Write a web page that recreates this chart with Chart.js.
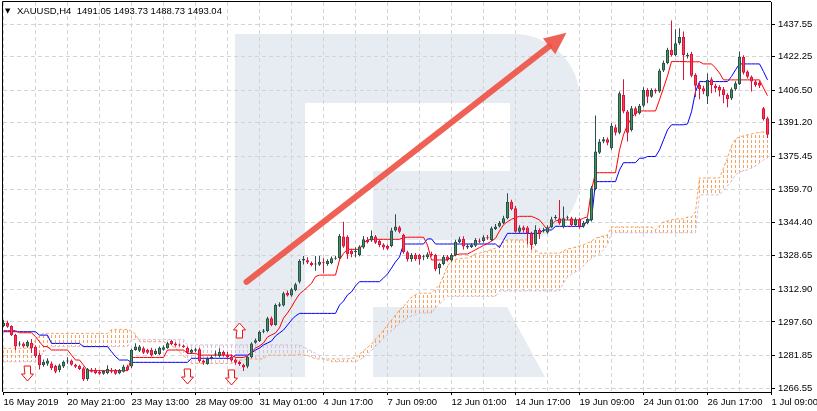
<!DOCTYPE html>
<html>
<head>
<meta charset="utf-8">
<title>XAUUSD H4</title>
<script src="https://cdn.jsdelivr.net/npm/chart.js@4.4.1/dist/chart.umd.min.js"></script>
<style>
  html, body { margin: 0; padding: 0; background: #fff; overflow: hidden; }
  canvas { display: block; }
</style>
</head>
<body>
<canvas id="chart" width="817" height="411"></canvas>
<script>
// XAUUSD H4 with Ichimoku
const symbolTitle = "XAUUSD,H4  1491.05 1493.73 1488.73 1493.04"

const xTickBars = [0, 16, 32, 48, 64, 80, 96, 112, 128, 144, 160, 176, 192]
const xTickLabels = ["16 May 2019", "20 May 21:00", "23 May 13:00", "28 May 09:00", "31 May 01:00", "4 Jun 17:00",
  "7 Jun 09:00", "12 Jun 01:00", "14 Jun 17:00", "19 Jun 09:00", "24 Jun 01:00", "26 Jun 17:00", "1 Jul 09:00"]
const xGridBars = [0, 8, 16, 24, 32, 40, 48, 56, 64, 72, 80, 88, 96, 104, 112, 120, 128, 136, 144, 152, 160, 168, 176, 184, 192]
const yTickLabels = ["1437.55", "1422.25", "1406.50", "1391.20", "1375.45", "1359.70", "1344.40", "1328.65",
  "1312.90", "1297.60", "1281.85", "1266.55"]

const open = [
  1295.7, 1297.2, 1295.7, 1291.4, 1287.0, 1287.5, 1286.0, 1287.8, 1285.9, 1282.0, 1277.3, 1278.0, 1278.1, 1276.9, 1275.0, 1276.6,
  1279.0, 1279.5, 1277.5, 1277.0, 1275.8, 1270.8, 1275.3, 1275.0, 1274.2, 1273.3, 1273.5, 1274.7, 1275.0, 1273.5, 1274.2, 1276.6,
  1276.6, 1284.4, 1284.0, 1285.2, 1284.5, 1284.4, 1282.5, 1282.5, 1284.5, 1285.2, 1288.6, 1287.5, 1286.8, 1286.5, 1285.5, 1283.1,
  1284.0, 1284.8, 1279.5, 1277.8, 1280.3, 1282.3, 1281.6, 1283.5, 1282.0, 1281.3, 1280.0, 1278.8, 1277.5, 1276.6, 1281.0, 1287.8,
  1288.6, 1293.0, 1293.3, 1299.3, 1296.2, 1305.2, 1305.3, 1311.2, 1310.0, 1312.5, 1316.5, 1326.5, 1326.6, 1325.4, 1324.6, 1324.4,
  1325.5, 1324.8, 1325.2, 1327.3, 1327.5, 1337.7, 1337.6, 1331.0, 1330.5, 1329.0, 1332.6, 1336.1, 1335.8, 1337.7, 1335.6, 1334.0,
  1333.3, 1333.3, 1340.5, 1342.1, 1338.5, 1330.3, 1327.0, 1329.2, 1329.0, 1328.0, 1328.0, 1329.2, 1329.0, 1322.8, 1324.8, 1328.3,
  1326.6, 1329.0, 1335.0, 1336.6, 1332.5, 1332.8, 1333.4, 1335.8, 1335.6, 1337.2, 1336.1, 1341.2, 1342.4, 1344.0, 1346.3, 1354.1,
  1351.0, 1340.0, 1342.1, 1342.0, 1339.2, 1334.2, 1340.8, 1340.3, 1339.6, 1342.1, 1346.4, 1346.3, 1342.1, 1346.3, 1346.3, 1343.1,
  1345.8, 1342.4, 1344.0, 1345.5, 1360.0, 1377.1, 1382.3, 1383.4, 1379.2, 1389.1, 1386.5, 1404.2, 1396.4, 1387.8, 1398.0, 1395.6,
  1399.1, 1406.6, 1403.4, 1406.6, 1405.8, 1415.7, 1419.2, 1425.4, 1423.0, 1428.5, 1431.4, 1422.3, 1423.5, 1413.6, 1408.9, 1407.4,
  1403.5, 1411.6, 1408.5, 1407.9, 1406.9, 1404.2, 1402.5, 1406.9, 1409.4, 1422.0, 1415.2, 1412.8, 1410.5, 1410.0, 1398.0, 1393.3
]
const high = [
  1298.5, 1298.2, 1296.0, 1292.0, 1288.5, 1288.0, 1289.0, 1289.6, 1286.5, 1283.0, 1280.0, 1280.5, 1279.0, 1277.5, 1278.0, 1279.5,
  1281.0, 1280.0, 1278.0, 1277.5, 1276.5, 1276.0, 1276.0, 1276.0, 1275.0, 1275.0, 1277.2, 1276.0, 1275.5, 1275.5, 1277.5, 1277.5,
  1285.0, 1287.6, 1286.8, 1286.0, 1285.0, 1285.5, 1285.0, 1286.0, 1286.5, 1288.2, 1289.2, 1288.0, 1287.5, 1287.0, 1286.0, 1285.0,
  1285.5, 1285.5, 1280.0, 1281.0, 1282.0, 1284.0, 1285.2, 1284.0, 1283.5, 1282.4, 1280.5, 1279.4, 1278.0, 1281.5, 1288.0, 1289.8,
  1293.6, 1294.3, 1300.0, 1300.2, 1306.2, 1306.8, 1311.8, 1312.4, 1313.6, 1316.0, 1327.0, 1328.6, 1328.0, 1326.0, 1328.6, 1328.6,
  1327.5, 1327.0, 1328.3, 1328.6, 1338.9, 1344.6, 1338.3, 1332.0, 1332.7, 1333.6, 1338.0, 1337.5, 1340.5, 1338.4, 1336.3, 1334.6,
  1334.0, 1341.8, 1348.2, 1342.8, 1339.0, 1331.0, 1330.0, 1330.0, 1329.6, 1329.2, 1330.3, 1330.6, 1329.6, 1325.4, 1329.0, 1329.0,
  1329.8, 1336.2, 1337.6, 1337.8, 1334.3, 1334.6, 1337.0, 1336.8, 1338.3, 1338.4, 1342.4, 1343.6, 1345.0, 1347.5, 1358.0, 1355.0,
  1352.0, 1343.0, 1342.9, 1342.6, 1340.0, 1343.0, 1341.6, 1341.8, 1343.0, 1347.0, 1347.8, 1354.9, 1351.8, 1347.5, 1347.0, 1346.6,
  1346.5, 1345.0, 1346.6, 1361.5, 1394.6, 1383.5, 1384.5, 1384.2, 1391.0, 1390.3, 1405.8, 1411.6, 1397.2, 1399.0, 1398.8, 1400.0,
  1407.8, 1407.4, 1407.4, 1407.3, 1416.5, 1420.4, 1426.4, 1439.2, 1435.1, 1435.6, 1434.0, 1424.0, 1424.5, 1414.4, 1409.8, 1408.5,
  1414.3, 1412.5, 1409.5, 1408.8, 1407.9, 1405.0, 1407.7, 1410.6, 1424.6, 1422.9, 1415.8, 1413.4, 1411.2, 1410.8, 1398.6, 1394.0
]
const low = [
  1295.2, 1294.8, 1291.0, 1284.4, 1286.0, 1285.5, 1285.5, 1283.0, 1280.6, 1275.3, 1276.5, 1277.0, 1275.0, 1273.5, 1274.0, 1276.0,
  1278.0, 1277.0, 1276.0, 1275.0, 1269.8, 1270.0, 1273.8, 1273.0, 1272.8, 1272.8, 1273.0, 1273.5, 1272.8, 1273.0, 1273.8, 1274.5,
  1276.0, 1284.0, 1283.5, 1282.5, 1282.5, 1281.3, 1282.0, 1282.0, 1284.0, 1285.0, 1286.8, 1286.0, 1286.0, 1285.5, 1282.5, 1282.5,
  1283.5, 1278.5, 1277.5, 1277.5, 1280.0, 1281.5, 1281.0, 1281.4, 1280.0, 1278.9, 1277.5, 1277.0, 1274.5, 1275.8, 1280.5, 1287.3,
  1288.2, 1292.3, 1292.8, 1295.6, 1295.8, 1304.6, 1304.8, 1309.5, 1309.4, 1312.0, 1315.6, 1324.6, 1324.8, 1323.8, 1321.6, 1323.9,
  1320.3, 1324.0, 1324.7, 1326.8, 1326.9, 1332.4, 1327.2, 1328.0, 1328.0, 1328.5, 1332.0, 1334.4, 1335.2, 1334.2, 1332.7, 1331.5,
  1331.4, 1332.7, 1339.9, 1339.2, 1329.6, 1326.0, 1325.9, 1326.3, 1324.5, 1326.6, 1327.2, 1328.3, 1321.4, 1320.0, 1324.2, 1326.0,
  1326.0, 1328.5, 1334.6, 1331.6, 1331.8, 1332.3, 1332.8, 1334.6, 1334.9, 1336.2, 1335.6, 1340.8, 1341.9, 1343.5, 1345.8, 1350.0,
  1339.5, 1339.0, 1339.5, 1334.0, 1331.5, 1333.5, 1336.5, 1339.6, 1339.0, 1341.6, 1345.6, 1343.3, 1341.6, 1345.5, 1342.5, 1342.6,
  1341.4, 1341.8, 1343.5, 1344.8, 1359.5, 1376.5, 1381.5, 1380.6, 1378.5, 1385.2, 1385.8, 1395.6, 1382.3, 1387.0, 1394.2, 1395.0,
  1398.4, 1400.3, 1402.9, 1404.9, 1405.2, 1415.0, 1418.6, 1422.3, 1422.4, 1427.8, 1411.3, 1421.3, 1412.5, 1403.2, 1402.2, 1404.6,
  1400.0, 1405.0, 1405.5, 1403.5, 1400.3, 1398.5, 1401.8, 1406.2, 1408.9, 1413.8, 1411.9, 1405.8, 1408.0, 1407.5, 1392.2, 1384.0
]
const close = [
  1297.2, 1295.3, 1291.4, 1286.0, 1287.5, 1286.0, 1288.3, 1285.2, 1281.6, 1277.3, 1278.9, 1279.5, 1275.8, 1274.2, 1277.3, 1278.9,
  1279.5, 1277.5, 1276.5, 1275.5, 1270.6, 1275.5, 1274.2, 1273.5, 1273.3, 1274.5, 1275.5, 1274.2, 1273.3, 1275.0, 1276.6, 1275.0,
  1284.4, 1286.0, 1286.0, 1283.1, 1283.1, 1282.0, 1284.0, 1285.5, 1285.7, 1287.6, 1287.2, 1286.5, 1286.5, 1285.8, 1283.1, 1284.5,
  1284.8, 1279.2, 1278.4, 1280.3, 1281.2, 1282.8, 1283.6, 1281.9, 1281.0, 1279.5, 1278.4, 1277.8, 1276.2, 1281.2, 1287.5, 1289.0,
  1293.0, 1293.6, 1299.3, 1296.1, 1305.5, 1305.9, 1311.1, 1310.0, 1312.9, 1315.3, 1326.2, 1327.2, 1325.5, 1324.3, 1324.9, 1325.9,
  1325.2, 1326.2, 1327.5, 1327.6, 1338.0, 1333.0, 1329.4, 1329.4, 1330.6, 1333.0, 1336.4, 1335.0, 1338.0, 1334.8, 1333.7, 1332.5,
  1332.0, 1340.5, 1342.4, 1340.0, 1330.3, 1327.0, 1329.0, 1327.1, 1327.0, 1328.3, 1329.4, 1329.0, 1322.3, 1324.8, 1328.2, 1326.7,
  1329.0, 1335.3, 1336.4, 1333.0, 1333.4, 1333.8, 1336.1, 1335.3, 1337.4, 1336.9, 1341.6, 1342.4, 1344.2, 1346.3, 1354.1, 1350.5,
  1340.0, 1342.0, 1340.8, 1339.2, 1333.7, 1340.8, 1338.9, 1340.8, 1342.1, 1345.8, 1346.8, 1343.9, 1346.3, 1346.8, 1343.1, 1345.8,
  1342.4, 1344.2, 1345.9, 1360.4, 1377.6, 1382.3, 1383.4, 1381.8, 1389.7, 1386.5, 1405.0, 1396.4, 1386.5, 1398.0, 1395.3, 1399.1,
  1406.6, 1403.4, 1406.6, 1405.8, 1415.7, 1419.4, 1425.4, 1423.0, 1428.5, 1431.4, 1423.0, 1423.0, 1413.2, 1408.5, 1406.9, 1405.8,
  1411.3, 1408.9, 1407.4, 1406.3, 1404.2, 1402.2, 1406.9, 1409.7, 1422.0, 1414.7, 1412.8, 1410.5, 1408.9, 1408.5, 1392.8, 1385.5
]

// Ichimoku lines, one value per bar
const tenkan = [
  1293.5, 1293.5, 1293.5, 1293.5, 1292.5, 1292.5, 1292.5, 1292.5, 1290.7, 1288.3, 1286.0, 1286.0, 1284.4, 1284.4, 1284.4, 1284.4,
  1284.4, 1282.0, 1279.7, 1279.7, 1277.3, 1274.7, 1274.7, 1274.7, 1274.7, 1274.7, 1274.7, 1274.7, 1274.7, 1274.7, 1274.7, 1274.7,
  1280.9, 1280.9, 1280.9, 1280.9, 1280.9, 1280.9, 1280.9, 1280.9, 1280.9, 1284.4, 1284.4, 1284.4, 1284.4, 1284.4, 1282.8, 1282.8,
  1282.8, 1282.0, 1282.0, 1282.0, 1282.0, 1282.0, 1282.0, 1282.0, 1282.0, 1282.0, 1280.9, 1280.9, 1280.9, 1281.6, 1283.5, 1285.3,
  1286.3, 1287.7, 1290.5, 1291.5, 1292.4, 1294.8, 1299.4, 1301.8, 1304.6, 1307.9, 1310.7, 1312.3, 1314.0, 1315.7, 1318.9, 1319.6,
  1319.6, 1319.6, 1319.6, 1319.6, 1326.7, 1329.8, 1331.7, 1331.7, 1331.7, 1331.7, 1334.5, 1336.1, 1336.4, 1336.4, 1336.4, 1336.4,
  1336.4, 1336.4, 1336.4, 1336.4, 1337.2, 1337.4, 1337.4, 1337.4, 1337.4, 1337.4, 1333.7, 1326.7, 1326.7, 1326.7, 1326.7, 1326.7,
  1328.1, 1329.0, 1329.5, 1329.5, 1329.5, 1330.5, 1331.5, 1332.5, 1333.5, 1334.5, 1335.5, 1336.9, 1340.3, 1343.2, 1344.7, 1345.8,
  1346.6, 1347.2, 1347.2, 1347.2, 1347.2, 1346.4, 1345.5, 1343.2, 1340.8, 1343.2, 1345.0, 1345.5, 1345.5, 1345.5, 1345.5, 1345.5,
  1345.5, 1346.3, 1347.0, 1359.6, 1367.7, 1367.7, 1367.7, 1367.7, 1367.7, 1367.7, 1378.4, 1385.5, 1390.2, 1393.4, 1395.8, 1396.7,
  1396.7, 1396.7, 1396.7, 1396.7, 1401.9, 1407.5, 1413.2, 1419.9, 1419.9, 1419.9, 1419.9, 1419.8, 1419.8, 1419.8, 1419.8, 1418.8,
  1418.8, 1418.8, 1416.9, 1414.5, 1411.3, 1411.3, 1411.3, 1411.3, 1411.3, 1411.3, 1411.3, 1411.3, 1411.3, 1411.3, 1407.5, 1403.9
]
const kijun = [
  1293.0, 1293.0, 1293.0, 1293.0, 1293.0, 1293.0, 1293.0, 1293.0, 1293.0, 1291.4, 1291.4, 1291.4, 1287.5, 1287.5, 1287.5, 1287.5,
  1287.5, 1287.5, 1287.5, 1287.5, 1286.0, 1286.0, 1286.0, 1286.0, 1286.0, 1286.0, 1286.0, 1283.6, 1281.3, 1279.7, 1279.7, 1279.7,
  1278.6, 1278.6, 1278.6, 1278.6, 1278.6, 1278.6, 1278.6, 1278.6, 1278.6, 1278.6, 1278.6, 1278.6, 1278.6, 1278.6, 1278.6, 1280.5,
  1280.5, 1280.5, 1280.5, 1280.5, 1280.5, 1280.5, 1280.5, 1280.5, 1280.5, 1280.5, 1282.0, 1282.0, 1282.0, 1282.0, 1283.0, 1284.4,
  1285.3, 1286.8, 1287.7, 1288.6, 1291.0, 1292.4, 1293.8, 1296.1, 1298.5, 1300.4, 1301.6, 1301.6, 1301.6, 1301.6, 1301.6, 1301.6,
  1301.6, 1301.6, 1301.6, 1301.6, 1305.5, 1307.4, 1310.3, 1311.7, 1314.5, 1316.5, 1316.5, 1316.5, 1316.5, 1316.5, 1316.5, 1318.2,
  1320.1, 1322.9, 1325.8, 1328.1, 1334.2, 1334.2, 1334.2, 1334.2, 1334.2, 1334.2, 1336.6, 1336.6, 1334.2, 1334.2, 1334.2, 1334.2,
  1334.2, 1334.2, 1334.2, 1334.2, 1334.2, 1334.2, 1334.2, 1334.2, 1334.2, 1334.2, 1334.2, 1334.2, 1332.5, 1336.0, 1339.2, 1339.2,
  1339.2, 1339.2, 1339.2, 1339.2, 1339.2, 1339.2, 1339.2, 1340.8, 1340.8, 1340.8, 1342.5, 1342.5, 1342.5, 1342.5, 1342.5, 1342.5,
  1342.5, 1342.5, 1345.5, 1345.5, 1363.5, 1363.5, 1363.5, 1363.5, 1363.5, 1363.5, 1369.0, 1372.4, 1372.4, 1372.4, 1372.4, 1374.5,
  1374.5, 1375.3, 1375.3, 1375.3, 1378.4, 1383.1, 1387.8, 1390.2, 1390.2, 1390.2, 1390.2, 1390.6, 1396.3, 1405.7, 1410.5, 1410.5,
  1410.5, 1410.5, 1410.5, 1410.5, 1410.5, 1410.5, 1412.9, 1416.0, 1418.8, 1418.8, 1418.8, 1418.8, 1418.8, 1418.8, 1415.2, 1411.3
]
const spanA = [
  1285.2, 1285.2, 1285.2, 1285.2, 1285.2, 1285.2, 1285.2, 1285.2, 1289.1, 1291.0, 1292.2, 1292.2, 1292.2, 1292.2, 1292.2, 1292.2,
  1292.2, 1292.2, 1292.2, 1292.2, 1292.2, 1292.2, 1292.2, 1292.2, 1292.2, 1292.2, 1292.2, 1294.1, 1294.1, 1294.1, 1294.1, 1294.1,
  1293.3, 1291.9, 1288.3, 1288.3, 1288.3, 1288.3, 1288.3, 1288.3, 1288.3, 1287.7, 1286.5, 1285.3, 1283.5, 1281.6, 1280.2, 1278.1,
  1278.1, 1278.1, 1278.1, 1278.1, 1278.1, 1278.1, 1278.1, 1278.1, 1278.1, 1278.1, 1278.9, 1279.7, 1279.7, 1280.2, 1280.2, 1280.2,
  1280.2, 1280.2, 1282.0, 1282.0, 1282.0, 1282.0, 1282.0, 1282.0, 1282.0, 1282.0, 1282.5, 1282.0, 1282.0, 1281.1, 1280.2, 1280.2,
  1280.2, 1280.2, 1280.2, 1280.2, 1280.2, 1280.2, 1280.2, 1280.6, 1280.6, 1282.5, 1283.9, 1285.6, 1287.2, 1289.6, 1291.5, 1293.8,
  1296.2, 1298.5, 1300.9, 1303.2, 1304.8, 1307.0, 1309.3, 1310.3, 1311.1, 1311.1, 1311.1, 1311.1, 1313.1, 1315.0, 1319.2, 1323.9,
  1326.2, 1326.9, 1327.4, 1327.6, 1327.6, 1328.6, 1329.5, 1329.9, 1330.5, 1330.9, 1331.6, 1332.2, 1333.8, 1335.3, 1336.1, 1336.1,
  1336.1, 1336.1, 1336.1, 1336.1, 1333.8, 1331.4, 1329.9, 1329.9, 1329.9, 1329.9, 1329.9, 1329.9, 1330.9, 1331.9, 1332.2, 1332.8,
  1333.3, 1333.8, 1334.7, 1335.6, 1336.9, 1337.5, 1338.0, 1338.5, 1342.2, 1342.2, 1342.2, 1342.2, 1342.2, 1342.2, 1342.2, 1342.2,
  1342.2, 1342.2, 1342.2, 1340.8, 1342.7, 1344.6, 1345.0, 1345.5, 1346.0, 1346.0, 1346.0, 1346.9, 1346.9, 1349.3, 1365.2, 1365.2,
  1365.2, 1365.2, 1365.2, 1365.2, 1369.9, 1374.6, 1380.3, 1383.6, 1384.5, 1385.0, 1385.5, 1385.9, 1386.4, 1386.6, 1386.9, 1387.3
]
const spanB = [
  1278.9, 1278.9, 1278.9, 1278.9, 1278.9, 1278.9, 1278.9, 1278.9, 1278.9, 1280.6, 1283.5, 1284.9, 1286.0, 1286.0, 1286.0, 1286.0,
  1286.0, 1286.0, 1286.0, 1286.0, 1286.0, 1286.0, 1286.0, 1286.0, 1286.0, 1286.0, 1286.0, 1286.0, 1286.0, 1286.0, 1286.0, 1286.0,
  1289.4, 1289.4, 1289.4, 1289.4, 1289.4, 1289.4, 1289.4, 1289.4, 1289.4, 1289.4, 1289.4, 1289.4, 1289.4, 1289.4, 1286.8, 1286.8,
  1286.8, 1286.8, 1286.8, 1286.8, 1286.8, 1286.8, 1286.8, 1286.8, 1286.8, 1286.8, 1286.8, 1286.8, 1286.8, 1286.8, 1286.8, 1286.8,
  1286.8, 1286.8, 1286.8, 1286.8, 1286.8, 1286.8, 1286.8, 1286.8, 1286.8, 1286.8, 1286.8, 1285.8, 1284.9, 1283.9, 1282.9, 1281.6,
  1280.4, 1279.5, 1278.9, 1278.9, 1278.9, 1278.9, 1278.9, 1278.9, 1278.9, 1279.7, 1280.9, 1282.5, 1284.2, 1286.1, 1287.7, 1289.6,
  1291.5, 1293.3, 1295.0, 1296.6, 1298.0, 1299.4, 1300.4, 1301.1, 1301.8, 1301.8, 1301.8, 1301.8, 1304.1, 1306.0, 1307.9, 1309.6,
  1309.6, 1309.6, 1309.6, 1309.6, 1309.6, 1309.6, 1309.6, 1309.6, 1309.6, 1309.6, 1309.6, 1309.6, 1312.1, 1312.1, 1312.1, 1312.1,
  1312.1, 1312.1, 1312.1, 1312.1, 1312.1, 1312.1, 1312.1, 1312.1, 1312.1, 1312.1, 1312.1, 1312.1, 1315.9, 1318.7, 1319.9, 1321.1,
  1322.0, 1323.9, 1325.8, 1327.5, 1328.6, 1329.5, 1331.4, 1333.8, 1339.5, 1339.5, 1339.5, 1339.5, 1339.5, 1339.5, 1339.5, 1339.5,
  1339.5, 1339.5, 1339.5, 1339.5, 1339.5, 1339.5, 1339.5, 1339.5, 1339.5, 1339.5, 1339.5, 1339.5, 1339.5, 1339.5, 1357.3, 1357.3,
  1357.3, 1357.3, 1357.3, 1357.3, 1359.6, 1361.5, 1363.8, 1366.7, 1368.1, 1368.5, 1369.0, 1369.9, 1370.9, 1372.3, 1373.7, 1374.6
]

// hollow arrows put on the chart (bar index, price at arrow centre)
const signalBars = [6, 46, 57, 59]
const signalPrices = [1273.4, 1272.4, 1271.5, 1293.6]
const signalDirs = ["down", "down", "down", "up"]

// trend arrow, [bar, price]
const trendFrom = [60.75, 1316.4]
const trendTo = [140.75, 1433.4]

const FONT = "'Liberation Sans', Arial, sans-serif"
const FONT_SIZE = 9.5
Chart.defaults.font.family = FONT
Chart.defaults.font.size = FONT_SIZE
Chart.defaults.color = "#000"

const canvas = document.getElementById("chart")
const ctx = canvas.getContext("2d")

// dotted vertical hatch used for the kumo
function hatch(color) {
  const tile = document.createElement("canvas")
  tile.width = 1
  tile.height = 5
  const g = tile.getContext("2d")
  g.fillStyle = color
  g.fillRect(0, 0, 1, 3)
  return ctx.createPattern(tile, "repeat")
}
const upKumo = hatch("#f4a460")
const downKumo = hatch("#d8bfd8")

const bars = open.map((_, i) => i)
const isUp = bars.map((i) => close[i] >= open[i])

const backdrop = {
  id: "backdrop",
  beforeDraw(chart) {
    const c = chart.ctx
    c.save()
    c.fillStyle = "#fff"
    c.fillRect(0, 0, chart.width, chart.height)
    // watermark logo
    c.fillStyle = "#e7ecf3"
    c.beginPath()
    c.moveTo(235, 34)
    c.lineTo(513, 34)
    c.arcTo(580, 34, 580, 100, 66)
    c.lineTo(580, 180)
    c.arcTo(580, 240, 520, 240, 60)
    c.lineTo(373, 240)
    c.lineTo(373, 171)
    c.lineTo(305, 171)
    c.lineTo(305, 377)
    c.lineTo(235, 377)
    c.closePath()
    c.rect(305, 103, 205, 68)
    c.fill("evenodd")
    c.beginPath()
    c.moveTo(373, 307)
    c.lineTo(507, 307)
    c.lineTo(545, 377)
    c.lineTo(373, 377)
    c.closePath()
    c.fill()
    c.restore()
  },
}

function hollowArrow(c, cx, cy, dir) {
  const s = dir === "down" ? 1 : -1
  const top = cy - 7.5 * s
  c.beginPath()
  c.moveTo(cx - 3, top)
  c.lineTo(cx + 3, top)
  c.lineTo(cx + 3, top + 8 * s)
  c.lineTo(cx + 6, top + 8 * s)
  c.lineTo(cx, top + 15 * s)
  c.lineTo(cx - 6, top + 8 * s)
  c.lineTo(cx - 3, top + 8 * s)
  c.closePath()
  c.fillStyle = "#fff"
  c.fill()
  c.strokeStyle = "#ee1111"
  c.lineWidth = 1
  c.stroke()
}

const overlay = {
  id: "overlay",
  afterDatasetsDraw(chart) {
    const c = chart.ctx
    const { x, y } = chart.scales
    c.save()

    // trend arrow
    const x1 = x.getPixelForValue(trendFrom[0])
    const y1 = y.getPixelForValue(trendFrom[1])
    const x2 = x.getPixelForValue(trendTo[0])
    const y2 = y.getPixelForValue(trendTo[1])
    const ang = Math.atan2(y2 - y1, x2 - x1)
    const head = 22
    const bx = x2 - head * Math.cos(ang)
    const by = y2 - head * Math.sin(ang)
    c.strokeStyle = "rgba(238, 80, 66, 0.9)"
    c.fillStyle = "rgba(238, 80, 66, 0.9)"
    c.lineWidth = 6
    c.lineCap = "round"
    c.beginPath()
    c.moveTo(x1, y1)
    c.lineTo(bx, by)
    c.stroke()
    c.beginPath()
    c.moveTo(x2, y2)
    c.lineTo(bx + 10 * Math.sin(ang), by - 10 * Math.cos(ang))
    c.lineTo(bx - 10 * Math.sin(ang), by + 10 * Math.cos(ang))
    c.closePath()
    c.fill()

    signalBars.forEach((bar, i) => {
      const cx = Math.round(x.getPixelForValue(bar)) - 0.5
      const cy = Math.round(y.getPixelForValue(signalPrices[i])) + 0.5
      hollowArrow(c, cx, cy, signalDirs[i])
    })
    c.restore()
  },
  afterDraw(chart) {
    const c = chart.ctx
    const a = chart.chartArea
    c.save()
    c.strokeStyle = "#000"
    c.lineWidth = 1
    c.beginPath()
    c.moveTo(a.left - 0.5, a.bottom)
    c.lineTo(a.left - 0.5, a.top - 0.5)
    c.lineTo(a.right, a.top - 0.5)
    c.stroke()
    c.fillStyle = "#000"
    c.font = "7px 'DejaVu Sans'"
    c.textBaseline = "alphabetic"
    c.fillText("\u25BC", 5, 13)
    c.font = FONT_SIZE + "px " + FONT
    c.fillText(symbolTitle, 17, 14)
    c.restore()
  },
}

new Chart(canvas, {
  type: "bar",
  data: {
    datasets: [
      {
        label: "Kumo",
        order: 10,
        data: bars.map((i) => ({ x: i, y: [spanA[i], spanB[i]] })),
        backgroundColor: bars.map((i) => (spanA[i] >= spanB[i] ? upKumo : downKumo)),
        borderWidth: 0,
        barThickness: 1,
        grouped: false,
        inflateAmount: 0,
      },
      {
        type: "line",
        label: "Senkou Span B",
        order: 9,
        data: bars.map((i) => ({ x: i, y: spanB[i] })),
        borderColor: "#d8bfd8",
        borderWidth: 1,
        borderDash: [3, 2],
        pointRadius: 0,
        tension: 0,
      },
      {
        type: "line",
        label: "Senkou Span A",
        order: 8,
        data: bars.map((i) => ({ x: i, y: spanA[i] })),
        borderColor: "#f4a460",
        borderWidth: 1,
        borderDash: [3, 2],
        pointRadius: 0,
        tension: 0,
      },
      {
        type: "line",
        label: "Kijun-sen",
        order: 7,
        data: bars.map((i) => ({ x: i, y: kijun[i] })),
        borderColor: "#0000ff",
        borderWidth: 1,
        pointRadius: 0,
        tension: 0,
      },
      {
        type: "line",
        label: "Tenkan-sen",
        order: 6,
        data: bars.map((i) => ({ x: i, y: tenkan[i] })),
        borderColor: "#ff0000",
        borderWidth: 1,
        pointRadius: 0,
        tension: 0,
      },
      {
        label: "Wicks",
        order: 5,
        data: bars.map((i) => ({ x: i, y: [low[i], high[i]] })),
        backgroundColor: bars.map((i) => (isUp[i] ? "#2f4f4f" : "#dc143c")),
        borderWidth: 0,
        barThickness: 1,
        minBarLength: 1,
        grouped: false,
        inflateAmount: 0,
      },
      {
        label: "Bodies",
        order: 4,
        data: bars.map((i) => ({ x: i, y: [open[i], close[i]] })),
        backgroundColor: bars.map((i) => (isUp[i] ? "#3c9a50" : "#f5414f")),
        borderColor: bars.map((i) => (isUp[i] ? "#2f4f4f" : "#dc143c")),
        borderWidth: 1,
        borderSkipped: false,
        barThickness: 3,
        minBarLength: 1,
        grouped: false,
        inflateAmount: 0,
      },
    ],
  },
  options: {
    responsive: false,
    animation: false,
    events: [],
    layout: { padding: { left: 3, top: 2, right: 0, bottom: 0 } },
    plugins: {
      legend: { display: false },
      tooltip: { enabled: false },
    },
    scales: {
      x: {
        type: "linear",
        position: "bottom",
        min: -0.125,
        max: 191.875,
        offset: false,
        grid: {
          offset: false,
          color: "#d4d4d4",
          tickLength: 3,
          tickColor: (c) => (c.tick && xTickBars.includes(c.tick.value) ? "#000" : "rgba(0,0,0,0)"),
        },
        border: { color: "#000", width: 1, dash: [4, 3] },
        ticks: {
          autoSkip: false,
          maxRotation: 0,
          minRotation: 0,
          align: "start",
          padding: 2,
          callback: (v) => {
            const i = xTickBars.indexOf(v)
            return i >= 0 ? xTickLabels[i] : ""
          },
        },
        // the last date label sits one bar past the newest candle
        afterBuildTicks: (scale) => {
          scale.ticks = xGridBars.map((v) => ({ value: v }))
        },
        afterFit: (scale) => {
          scale.height = 19
          scale.paddingLeft = 0
          scale.paddingRight = 0
        },
      },
      y: {
        type: "linear",
        position: "right",
        min: 1264.675,
        max: 1447.885,
        beginAtZero: false,
        grid: { color: "#d4d4d4", tickLength: 4, tickColor: "#000" },
        border: { color: "#000", width: 1, dash: [4, 3] },
        ticks: {
          padding: 3,
          callback: (v) => v.toFixed(2),
        },
        afterBuildTicks: (scale) => {
          scale.ticks = yTickLabels.map((s) => ({ value: parseFloat(s) }))
        },
        afterFit: (scale) => {
          scale.width = 46
          scale.paddingTop = 0
          scale.paddingBottom = 0
        },
      },
    },
  },
  plugins: [backdrop, overlay],
})
</script>
</body>
</html>
